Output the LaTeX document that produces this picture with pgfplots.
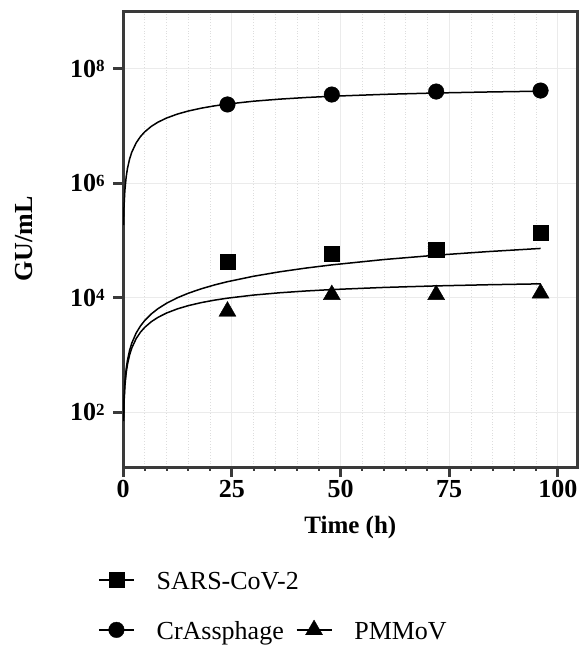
\documentclass[border=0pt]{standalone}
\usepackage{fontspec}
\setmainfont{Liberation Serif}
\usepackage{pgfplots}
\pgfplotsset{compat=1.18}
\definecolor{axgray}{HTML}{3A3A3A}
\definecolor{gridgray}{HTML}{EBEBEB}
\definecolor{dotgray}{HTML}{DDDDDD}
\newcommand{\tl}[1]{\textbf{10}\raisebox{5.5bp}{\fontsize{17bp}{17bp}\selectfont\bfseries #1}}
\begin{document}
\begin{tikzpicture}
\begin{semilogyaxis}[
  at={(0,0)}, anchor=south west,
  scale only axis, width=454.4bp, height=455.7bp,
  xmin=0, xmax=104.5, ymin=11, ymax=1e9,
  axis line style={axgray, line width=3bp},
  tick align=outside,
  xtick pos=bottom, ytick pos=left,
  xtick={0,25,50,75,100},
  xticklabels={\textbf{0},\textbf{25},\textbf{50},\textbf{75},\textbf{100}},
  minor x tick num=4,
  ytick={1e2,1e4,1e6,1e8},
  yticklabels={\tl{2},\tl{4},\tl{6},\tl{8}},
  yminorticks=false,
  xmajorgrids=true, ymajorgrids=true, xminorgrids=true,
  major grid style={gridgray, line width=0.9bp},
  minor grid style={dotgray, line width=0.8bp, dotted},
  major tick length=10bp, minor tick length=4bp,
  tick style={axgray, line width=3bp},
  every minor tick/.append style={line width=2bp},
  tick label style={font=\fontsize{26bp}{30bp}\selectfont\bfseries},
  yticklabel style={xshift=-5bp},
  xlabel={Time (h)},
  ylabel={GU/mL},
  every axis x label/.style={at={(axis description cs:0.5,0)}, yshift=-66.3bp, anchor=base, font=\fontsize{25bp}{30bp}\selectfont\bfseries},
  every axis y label/.style={at={(axis description cs:0,0.5)}, xshift=-99bp, rotate=90, anchor=center, font=\fontsize{26bp}{30bp}\selectfont\bfseries},
  legend image code/.code={\draw[mark repeat=2,mark phase=2,#1] plot coordinates {(0bp,7bp) (17.5bp,7bp) (35bp,7bp)};},
  legend columns=2,
  legend cell align=left,
  legend style={at={(axis description cs:-0.0552,-0.2306)}, anchor=north west, draw=none, fill=none,
    inner sep=0pt, font=\fontsize{26bp}{30bp}\selectfont,
    nodes={inner sep=2bp, text height=0.75em, text depth=0.25em},
    row sep=26.2bp, column sep=20bp,
    /tikz/every even column/.append style={column sep=10bp}},
]
% fitted curves
\addplot[black, line width=1.5bp, forget plot] coordinates {
(0.1,1.851e5) (0.2,3.688e5) (0.4,7.324e5) (0.7,1.268e6) (1,1.793e6) (1.5,2.644e6) (2,3.467e6)
(3,5.032e6) (4,6.5e6) (5,7.879e6) (6.5,9.797e6) (8,1.156e7) (10,1.368e7) (12.5,1.605e7)
(15,1.814e7) (18,2.035e7) (21,2.229e7) (24,2.4e7) (30,2.690e7) (36,2.925e7) (42,3.12e7)
(48,3.284e7) (60,3.545e7) (72,3.744e7) (84,3.9e7) (96,4.026e7)};
\addplot[black, line width=1.5bp, forget plot] coordinates {
(0.1,80.3) (0.2,160.5) (0.4,321) (0.7,561.7) (1,802.3) (1.5,1203) (2,1603)
(3,2403) (4,3202) (5,4000) (6.5,5195) (8,6387) (10,7972) (12.5,9948)
(15,1.192e4) (18,1.427e4) (21,1.661e4) (24,1.895e4) (30,2.359e4) (36,2.819e4) (42,3.275e4)
(48,3.728e4) (60,4.622e4) (72,5.501e4) (84,6.367e4) (96,7.219e4)};
\addplot[black, line width=1.5bp, forget plot] coordinates {
(0.1,69.5) (0.2,138.6) (0.4,275.7) (0.7,478.2) (1,677.2) (1.5,1001) (2,1317)
(3,1921) (4,2493) (5,3036) (6.5,3800) (8,4508) (10,5378) (12.5,6358)
(15,7238) (18,8182) (21,9022) (24,9775) (30,1.107e4) (36,1.214e4) (42,1.304e4)
(48,1.381e4) (60,1.505e4) (72,1.601e4) (84,1.677e4) (96,1.739e4)};
% data points
\addplot[only marks, mark=square*, mark size=7.6bp, black, mark options={line width=0.4bp}, forget plot] coordinates {
(24,4.27e4) (48,5.75e4) (72,6.76e4) (96,1.38e5)};
\addplot[only marks, mark=*, mark size=7.8bp, black, mark options={line width=0.4bp}, forget plot] coordinates {
(24,2.36e7) (48,3.52e7) (72,3.97e7) (96,4.13e7)};
\addplot[only marks, mark=triangle*, mark size=9.8bp, black, mark options={line width=0.4bp}, forget plot] coordinates {
(24,5.75e3) (48,1.12e4) (72,1.12e4) (96,1.19e4)};
% legend
\addlegendimage{black, line width=1.5bp, mark=square*, mark size=7.6bp, mark options={line width=0.4bp}}
\addlegendentry{\rlap{SARS-CoV-2}}
\addlegendimage{empty legend}
\addlegendentry{}
\addlegendimage{black, line width=1.5bp, mark=*, mark size=7.8bp, mark options={line width=0.4bp}}
\addlegendentry{CrAssphage}
\addlegendimage{black, line width=1.5bp, mark=triangle*, mark size=9.8bp, mark options={line width=0.4bp}}
\addlegendentry{PMMoV}
\end{semilogyaxis}
\pgfresetboundingbox
\path[use as bounding box] (-123.1bp,-178bp) rectangle (456.9bp,467bp);
\end{tikzpicture}
\end{document}
